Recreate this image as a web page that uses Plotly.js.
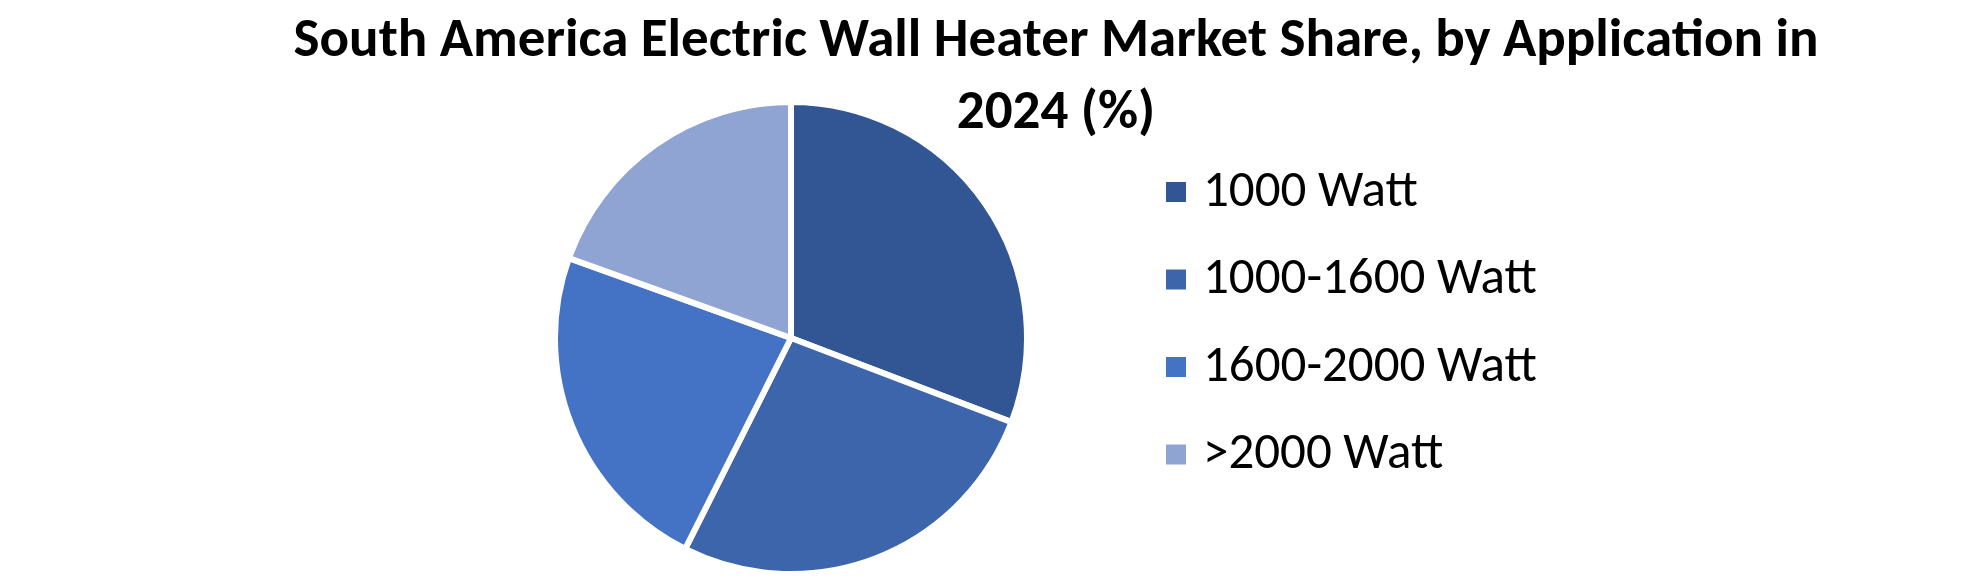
<!DOCTYPE html>
<html>
<head>
<meta charset="utf-8">
<script src="https://cdn.plot.ly/plotly-3.0.1.min.js"></script>
<style>html,body{margin:0;padding:0;background:#fff;}#chart{width:1980px;height:580px;}</style>
</head>
<body>
<div id="chart"></div>
<script>
const titleText = "South America Electric Wall Heater Market Share, by Application in<br>2024 (%)";
const categories = ["1000 Watt", "1000-1600 Watt", "1600-2000 Watt", ">2000 Watt"];
const shares = [30.8, 26.6, 23.1, 19.5];
const colors = ["#325693", "#3D65AB", "#4472C4", "#8FA4D3"];

const W = 1980, H = 580;
const FONT = "Carlito, Lato, 'Open Sans', sans-serif";

// custom legend built from the category and colour arrays
const legendX0 = 1166, legendSq = 20, legendTextX = 1201;
const legendY0 = 192, legendStep = 87.5;
const shapes = [], annotations = [];
categories.forEach((c, i) => {
  const cy = legendY0 + i * legendStep;
  shapes.push({
    type: "rect", xref: "paper", yref: "paper",
    x0: legendX0 / W, x1: (legendX0 + legendSq) / W,
    y0: 1 - (cy + legendSq / 2) / H, y1: 1 - (cy - legendSq / 2) / H,
    fillcolor: colors[i], line: {width: 0}
  });
  annotations.push({
    xref: "paper", yref: "paper", x: legendTextX / W, y: 1 - (cy - 4) / H,
    xanchor: "left", yanchor: "middle", showarrow: false,
    text: c, font: {family: FONT, size: 51, color: "#000"}
  });
});

const cx = 791, cyPie = 338, r = 236;
const data = [{
  type: "pie",
  labels: categories,
  values: shares,
  sort: false,
  direction: "clockwise",
  rotation: 0,
  textinfo: "none",
  hoverinfo: "label+percent",
  marker: {colors: colors, line: {color: "#ffffff", width: 6}},
  domain: {x: [(cx - r) / W, (cx + r) / W], y: [1 - (cyPie + r) / H, 1 - (cyPie - r) / H]},
  showlegend: false
}];

const layout = {
  width: W, height: H,
  margin: {l: 0, r: 0, t: 0, b: 0},
  paper_bgcolor: "#ffffff",
  plot_bgcolor: "#ffffff",
  title: {
    text: titleText,
    x: 1056 / W, xanchor: "center",
    y: 1 - 56 / H, yanchor: "top", yref: "container",
    font: {family: FONT, size: 55, color: "#000", weight: "bold"}
  },
  showlegend: false,
  shapes: shapes,
  annotations: annotations
};

Plotly.newPlot("chart", data, layout, {displayModeBar: false, staticPlot: true});
</script>
</body>
</html>
